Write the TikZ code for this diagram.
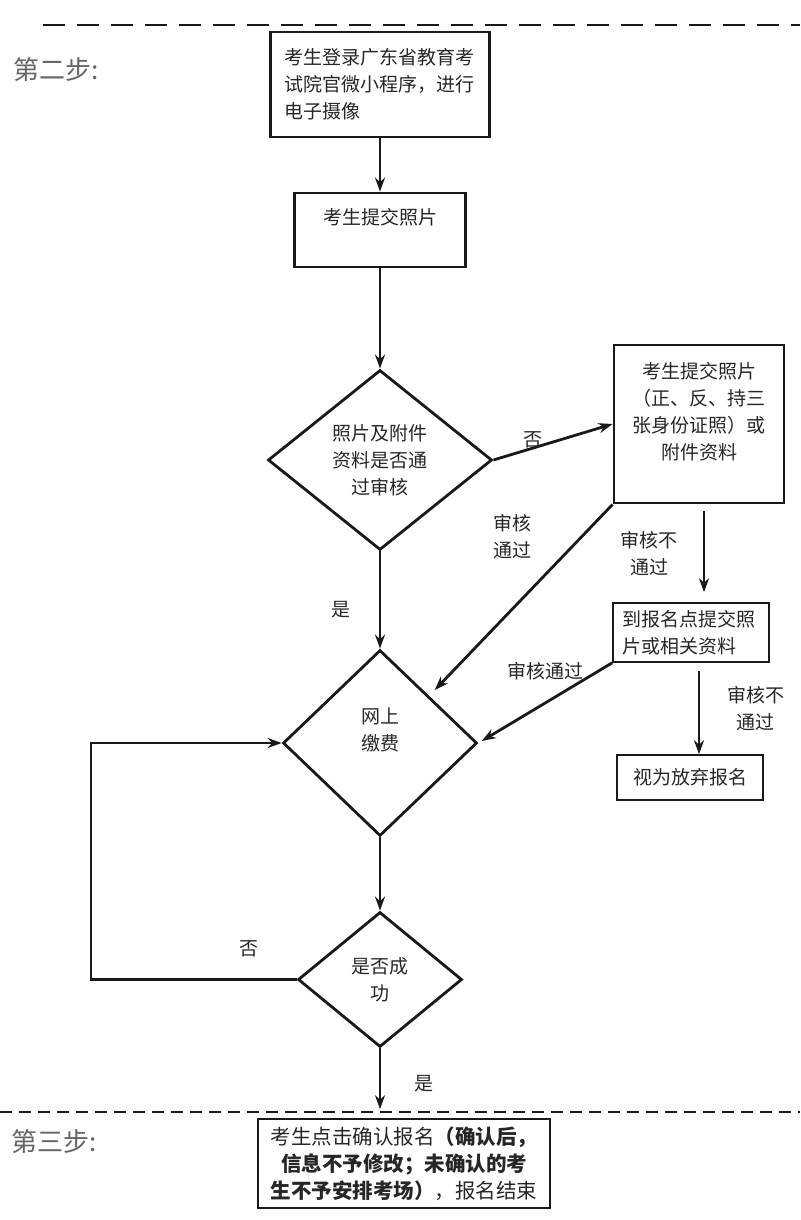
\documentclass[tikz,border=0pt]{standalone}
\usepackage{fontspec}
\newfontfamily\cjk{Noto Sans CJK SC}
\usetikzlibrary{shapes.geometric,arrows.meta}
\tikzset{
  box/.style={draw=black!90, line width=2.8pt, text=black!85, font=\cjk\fontsize{19}{27}\selectfont, align=center, inner sep=0pt},
  thinbox/.style={box, line width=1.6pt},
  dia/.style={draw=black!90, diamond, line width=2.8pt, text=black!85, font=\cjk\fontsize{19}{27}\selectfont, align=center, inner sep=0pt},
  arr/.style={draw=black!90, line width=2.8pt, -{Stealth[length=14pt,width=10pt]}},
  lbl/.style={text=black!85, font=\cjk\fontsize{19}{27}\selectfont, align=center, inner sep=0pt},
  stepname/.style={text=black!60, font=\cjk\fontsize{26}{30}\selectfont, inner sep=0pt}
}
\begin{document}
\begin{tikzpicture}[x=1pt,y=-1pt]
\useasboundingbox (0,0) rectangle (800,1220);
\draw[line width=2.8pt, black!90, dash pattern=on 22pt off 12pt] (43,25) -- (800,25);
\draw[line width=2.2pt, black!90, dash pattern=on 12pt off 7pt] (0,1112) -- (800,1112);
\node[stepname, anchor=west] (s2) at (13,70) {第二步:};
\node[stepname, anchor=west] (s3) at (11,1142) {第三步:};
\node[box, minimum width=219pt, minimum height=105pt, text width=192pt, align=left] (login) at (380,84.5) {考生登录广东省教育考\\试院官微小程序，进行\\电子摄像};
\node[box, minimum width=171pt, minimum height=74pt] (photo) at (380,230) {考生提交照片\\~};
\node[dia, minimum width=224pt, minimum height=180pt] (d1) at (380,460) {照片及附件\\资料是否通\\过审核};
\node[box, minimum width=170pt, minimum height=158pt] (rbox) at (699,424) {考生提交照片\\（正、反、持三\\张身份证照）或\\附件资料\\~};
\node[thinbox, minimum width=156pt, minimum height=59pt, text width=137pt, align=left] (site) at (691,632.5) {到报名点提交照\\片或相关资料};
\node[thinbox, minimum width=146pt, minimum height=45pt] (quit) at (690,777.5) {视为放弃报名};
\node[dia, minimum width=194pt, minimum height=186pt] (d2) at (380,743) {网上\\缴费\\~};
\node[dia, minimum width=164pt, minimum height=135pt] (d3) at (380,979.5) {是否成\\功};
\node[thinbox, minimum width=292pt, minimum height=89pt, font=\cjk\fontsize{20.5}{27}\selectfont] (fin) at (404,1163.5) {考生点击确认报名\textbf{（确认后，}\\\textbf{信息不予修改；未确认的考}\\\textbf{生不予安排考场）}，报名结束};
\coordinate (rb) at ([xshift=5pt]rbox.south);
\coordinate (sb) at ([xshift=8pt]site.south);
\coordinate (loop) at (91,860);
\draw[arr] (login) -- (photo);
\draw[arr] (photo) -- (d1);
\draw[arr] (d1.east) -- node[lbl, pos=0.33, yshift=8pt] {否} (rbox.west);
\draw[arr, shorten >=8pt] (rbox.south west) -- node[lbl, pos=0.17, xshift=-69pt] {审核\\通过} (d2.north east);
\draw[arr, shorten <=7pt, shorten >=10pt] (rb) -- node[lbl, left=25pt] {审核不\\通过} (rb |- site.north);
\draw[arr, shorten >=4pt] (site.south west) -- node[lbl, yshift=32pt] {审核通过} (d2.east);
\draw[arr, shorten <=8pt] (sb) -- node[lbl, right=27pt] {审核不\\通过} (sb |- quit.north);
\draw[arr] (d1) -- node[lbl, left=28pt, pos=0.6] {是} (d2);
\draw[arr] (d2) -- (d3);
\draw[arr] (d3.west) -| node[lbl, pos=0.115, above=21pt] {否} (loop) |- (d2.west);
\draw[arr, shorten >=9pt] (d3) -- node[lbl, right=33pt] {是} (d3 |- fin.north);
\end{tikzpicture}
\end{document}
